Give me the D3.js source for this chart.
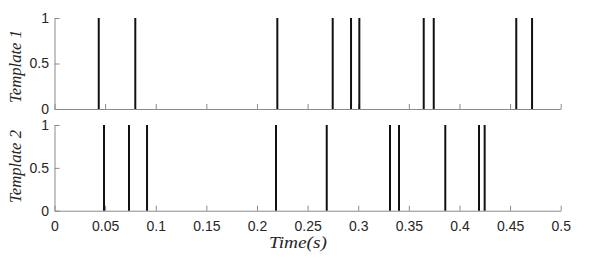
<!DOCTYPE html>
<html>
<head>
<meta charset="utf-8">
<script src="https://cdn.jsdelivr.net/npm/d3@7"></script>
<style>
body { margin: 0; background: #fff; }
</style>
</head>
<body>
<svg width="598" height="259"></svg>
<script>
// spike times (s)
var template1 = [0.0437, 0.0798, 0.2201, 0.2748, 0.2929, 0.3011, 0.3647, 0.3746, 0.4561, 0.4717];
var template2 = [0.0489, 0.0736, 0.0914, 0.2188, 0.2689, 0.3314, 0.3403, 0.3860, 0.4193, 0.4249];
var xTicks = [0, 0.05, 0.1, 0.15, 0.2, 0.25, 0.3, 0.35, 0.4, 0.45, 0.5];
var yTicks = [0, 0.5, 1];
var panelNames = ["Template 1", "Template 2"];

var svg = d3.select("svg");
var axisColor = "#8a8a8a";
var sans = "'Liberation Sans', Arial, sans-serif";
var serif = "'Liberation Serif', 'Times New Roman', serif";

var x = d3.scaleLinear().domain([0, 0.5]).range([54.5, 560.7]);

var panels = [
  { data: template1, top: 18, bottom: 109, name: panelNames[0], labels: false, labY: 66.5 },
  { data: template2, top: 125, bottom: 210.7, name: panelNames[1], labels: true, labY: 166.5 }
];

panels.forEach(function(p) {
  var y = d3.scaleLinear().domain([0, 1]).range([p.bottom, p.top]);
  var g = svg.append("g");

  // x axis
  var xa = g.append("g")
    .attr("transform", "translate(0," + y(0) + ")")
    .call(d3.axisBottom(x).tickValues(xTicks).tickSizeInner(-5).tickSizeOuter(0)
      .tickFormat(p.labels ? function(d) { return d3.format("~g")(d); } : ""));
  xa.select(".domain").attr("stroke", axisColor);
  xa.selectAll(".tick line").attr("stroke", axisColor);
  xa.selectAll("text").attr("fill", "#262626").attr("dy", "1.27em")
    .style("font-family", sans).style("font-size", "14px");

  // y axis
  var ya = g.append("g")
    .attr("transform", "translate(" + x(0) + ",0)")
    .call(d3.axisLeft(y).tickValues(yTicks).tickSizeInner(-5).tickSizeOuter(0)
      .tickFormat(d3.format("~g")));
  ya.select(".domain").attr("stroke", axisColor);
  ya.selectAll(".tick line").attr("stroke", axisColor);
  ya.selectAll("text").attr("fill", "#262626").attr("x", -5.5)
    .style("font-family", sans).style("font-size", "14px");

  // stems
  g.selectAll(".stem")
    .data(p.data)
    .enter().append("line")
    .attr("class", "stem")
    .attr("x1", function(d) { return x(d); })
    .attr("x2", function(d) { return x(d); })
    .attr("y1", y(0))
    .attr("y2", y(1))
    .attr("stroke", "#111")
    .attr("stroke-width", 2);

  // panel label
  g.append("text")
    .attr("transform", "translate(21," + p.labY + ") rotate(-90)")
    .attr("text-anchor", "middle")
    .attr("textLength", 73)
    .attr("lengthAdjust", "spacingAndGlyphs")
    .style("font-family", serif).style("font-style", "italic").style("font-size", "16px")
    .attr("fill", "#262626")
    .text(p.name);
});

svg.append("text")
  .attr("x", 298)
  .attr("y", 248)
  .attr("text-anchor", "middle")
  .attr("textLength", 58)
  .attr("lengthAdjust", "spacingAndGlyphs")
  .style("font-family", serif).style("font-style", "italic").style("font-size", "16px")
  .attr("fill", "#262626")
  .text("Time(s)");
</script>
</body>
</html>
